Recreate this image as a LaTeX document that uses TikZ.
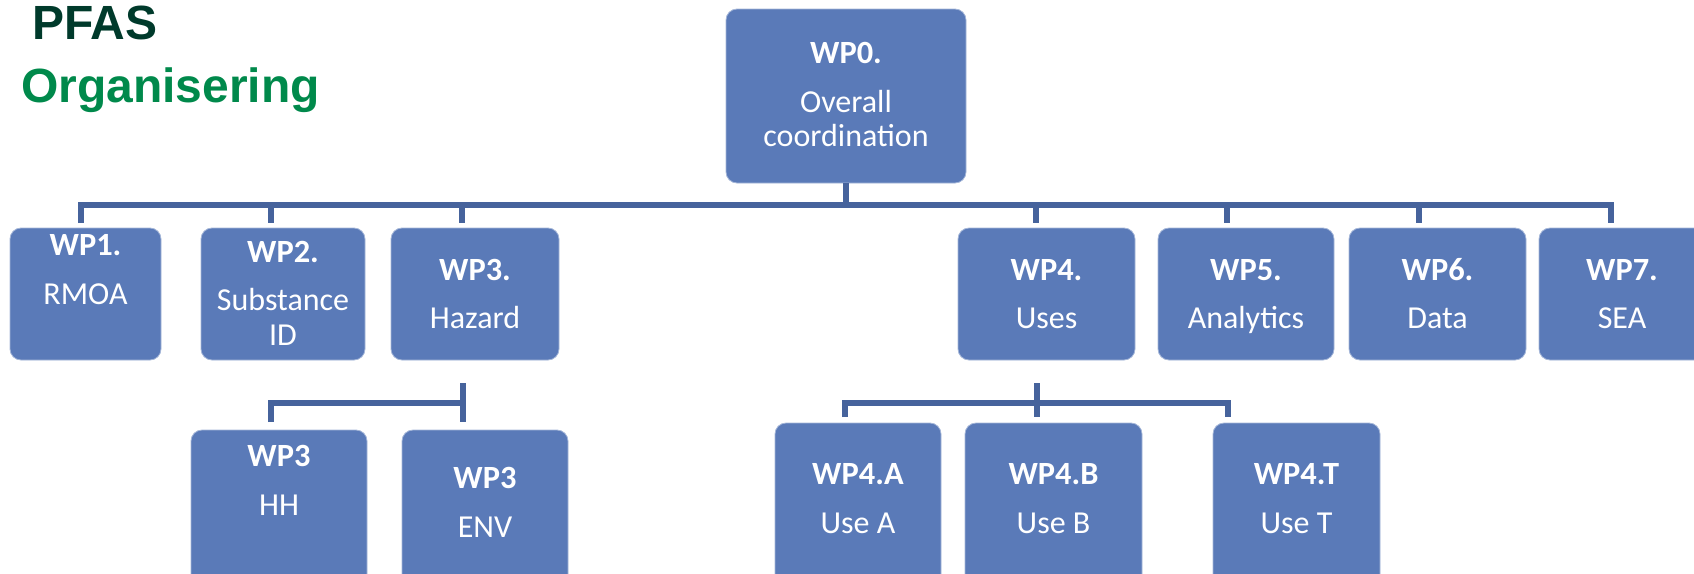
\documentclass[tikz,border=0pt]{standalone}
\usepackage{fontspec}
\setmainfont{Carlito}
\newfontfamily\arialfont{Liberation Sans}
\definecolor{boxblue}{HTML}{5A7AB8}
\definecolor{lineblue}{HTML}{46639C}
\definecolor{pfasgreen}{HTML}{003A2B}
\definecolor{orggreen}{HTML}{00894B}
\begin{document}
\begin{tikzpicture}[x=1pt,y=-1pt,
  wpbox/.style={draw=boxblue!55!white, line width=0.8pt, fill=boxblue, rounded corners=11pt, inner sep=0pt, outer sep=0pt},
  head/.style={anchor=base, inner sep=0pt, text=white, font=\fontsize{32.4}{36}\selectfont\bfseries},
  body/.style={anchor=base, inner sep=0pt, text=white, font=\fontsize{32}{36}\selectfont},
  conn/.style={draw=lineblue, line width=5.5pt, line join=miter},
  ttl/.style={anchor=base west, inner sep=0pt, font=\arialfont\bfseries\fontsize{48}{52}\selectfont}]
\useasboundingbox (0,0) rectangle (1694,573);
\clip (0,0) rectangle (1694,573);

% titles
\node[ttl, text=pfasgreen] (pfas) at (32,39) {PFAS};
\node[ttl, text=orggreen] (org) at (21,102) {Organisering};

% boxes
\node[wpbox, minimum width=240pt, minimum height=174pt] (wp0) at (846,96) {};
\node[wpbox, minimum width=151pt, minimum height=132pt] (wp1) at (85.5,294) {};
\node[wpbox, minimum width=164pt, minimum height=132pt] (wp2) at (283,294) {};
\node[wpbox, minimum width=168pt, minimum height=132pt] (wp3) at (475,294) {};
\node[wpbox, minimum width=177pt, minimum height=132pt] (wp4) at (1046.5,294) {};
\node[wpbox, minimum width=176pt, minimum height=132pt] (wp5) at (1246,294) {};
\node[wpbox, minimum width=177pt, minimum height=132pt] (wp6) at (1437.5,294) {};
\node[wpbox, minimum width=170pt, minimum height=132pt] (wp7) at (1624,294) {};
\node[wpbox, minimum width=176pt, minimum height=170pt] (hh) at (279,515) {};
\node[wpbox, minimum width=166pt, minimum height=170pt] (env) at (485,515) {};
\node[wpbox, minimum width=166pt, minimum height=177pt] (usea) at (858,511.5) {};
\node[wpbox, minimum width=177pt, minimum height=177pt] (useb) at (1053.5,511.5) {};
\node[wpbox, minimum width=167pt, minimum height=177pt] (uset) at (1296.5,511.5) {};

% texts
\node[head] (t0a) at (wp0 |- 0,63) {WP0.};
\node[body] (t0b) at (wp0 |- 0,112) {Overall};
\node[body] (t0c) at (wp0 |- 0,146) {coordination};
\node[head] (t1a) at (wp1 |- 0,255) {WP1.};
\node[body] (t1b) at (wp1 |- 0,304) {RMOA};
\node[head] (t2a) at (wp2 |- 0,262) {WP2.};
\node[body] (t2b) at (wp2 |- 0,310) {Substance};
\node[body] (t2c) at (wp2 |- 0,345) {ID};
\node[head] (t3a) at (wp3 |- 0,280) {WP3.};
\node[body] (t3b) at (wp3 |- 0,328) {Hazard};
\node[head] (t4a) at (wp4 |- 0,280) {WP4.};
\node[body] (t4b) at (wp4 |- 0,328) {Uses};
\node[head] (t5a) at (wp5 |- 0,280) {WP5.};
\node[body] (t5b) at (wp5 |- 0,328) {Analytics};
\node[head] (t6a) at (wp6 |- 0,280) {WP6.};
\node[body] (t6b) at (wp6 |- 0,328) {Data};
\node[head] (t7a) at (1622,280) {WP7.};
\node[body] (t7b) at (1622,328) {SEA};
\node[head] (thha) at (hh |- 0,466) {WP3};
\node[body] (thhb) at (hh |- 0,515) {HH};
\node[head] (tenva) at (env |- 0,488) {WP3};
\node[body] (tenvb) at (env |- 0,537) {ENV};
\node[head] (taa) at (usea |- 0,484) {WP4.A};
\node[body] (tab) at (usea |- 0,533) {Use A};
\node[head] (tba) at (useb |- 0,484) {WP4.B};
\node[body] (tbb) at (useb |- 0,533) {Use B};
\node[head] (tta) at (uset |- 0,484) {WP4.T};
\node[body] (ttb) at (uset |- 0,533) {Use T};

% connector coordinates
\coordinate (bus0) at (wp0.south |- 0,205);
\coordinate (b1) at (81,205);   \coordinate (d1) at (81,223);
\coordinate (b2) at (271,205);  \coordinate (d2) at (271,223);
\coordinate (b3) at (462,205);  \coordinate (d3) at (462,223);
\coordinate (b4) at (1036,205); \coordinate (d4) at (1036,223);
\coordinate (b5) at (1227,205); \coordinate (d5) at (1227,223);
\coordinate (b6) at (1419,205); \coordinate (d6) at (1419,223);
\coordinate (b7) at (1611,205); \coordinate (d7) at (1611,223);

\coordinate (s3top) at (463,383); \coordinate (s3bot) at (463,422);
\coordinate (s3bar) at (463,403);
\coordinate (hhbar) at (271,403); \coordinate (hhd) at (271,422);

\coordinate (s4top) at (1037,383); \coordinate (s4bot) at (1037,417);
\coordinate (abar) at (845,403); \coordinate (ad) at (845,417);
\coordinate (tbar) at (1228,403); \coordinate (td) at (1228,417);

% connectors
\draw[conn] (wp0.south) -- (bus0);
\draw[conn] (d1) -- (b1) -- (b7) -- (d7);
\draw[conn] (b2) -- (d2);
\draw[conn] (b3) -- (d3);
\draw[conn] (b4) -- (d4);
\draw[conn] (b5) -- (d5);
\draw[conn] (b6) -- (d6);

\draw[conn] (s3top) -- (s3bot);
\draw[conn] (hhd) -- (hhbar) -- (s3bar);

\draw[conn] (s4top) -- (s4bot);
\draw[conn] (ad) -- (abar) -- (tbar) -- (td);
\end{tikzpicture}
\end{document}
